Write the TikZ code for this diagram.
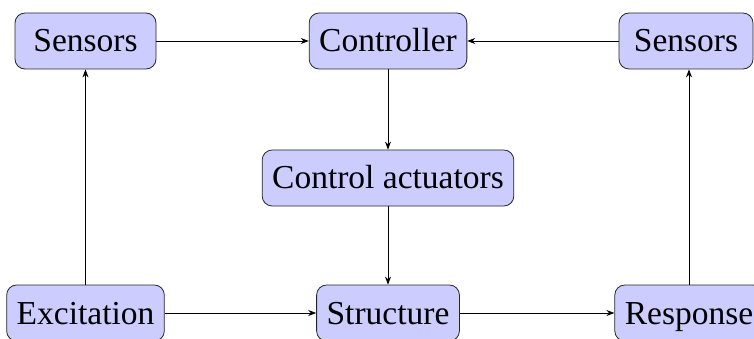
\documentclass[tikz,border=0pt]{standalone}
\usepackage{fontspec}
\setmainfont{Liberation Serif}
\usetikzlibrary{arrows.meta}
\begin{document}
\begin{tikzpicture}[x=1pt,y=-1pt,
  block/.style={draw=black!85, fill=blue!20, rounded corners=10pt, line width=0.8pt,
    minimum width=141pt, minimum height=56pt, inner xsep=10pt, inner ysep=4pt,
    text height=22pt, text depth=0pt,
    font=\fontsize{33.5}{38}\selectfont},
  conn/.style={line width=0.8pt, draw=black, -{Stealth[length=8pt,width=6pt]}}]
\useasboundingbox (0,0) rectangle (754,339);
\clip (0,0) rectangle (754,339);
\node[block] (sl) at (85.5,41) {Sensors};
\node[block] (ctrl) at (388,41) {Controller};
\node[block, minimum width=134pt] (sr) at (686,41) {Sensors};
\node[block] (act) at (388,178) {Control actuators};
\node[block] (exc) at (85.5,313) {Excitation};
\node[block] (str) at (388,313) {Structure};
\node[block] (resp) at (689,313) {Response};
\draw[conn] (sl) -- (ctrl);
\draw[conn] (sr) -- (ctrl);
\draw[conn] (ctrl) -- (act);
\draw[conn] (act) -- (str);
\draw[conn] (exc) -- (str);
\draw[conn] (str) -- (resp);
\draw[conn] (exc.north) -- (exc.north |- sl.south);
\draw[conn] (resp.north) -- (resp.north |- sr.south);
\end{tikzpicture}
\end{document}
